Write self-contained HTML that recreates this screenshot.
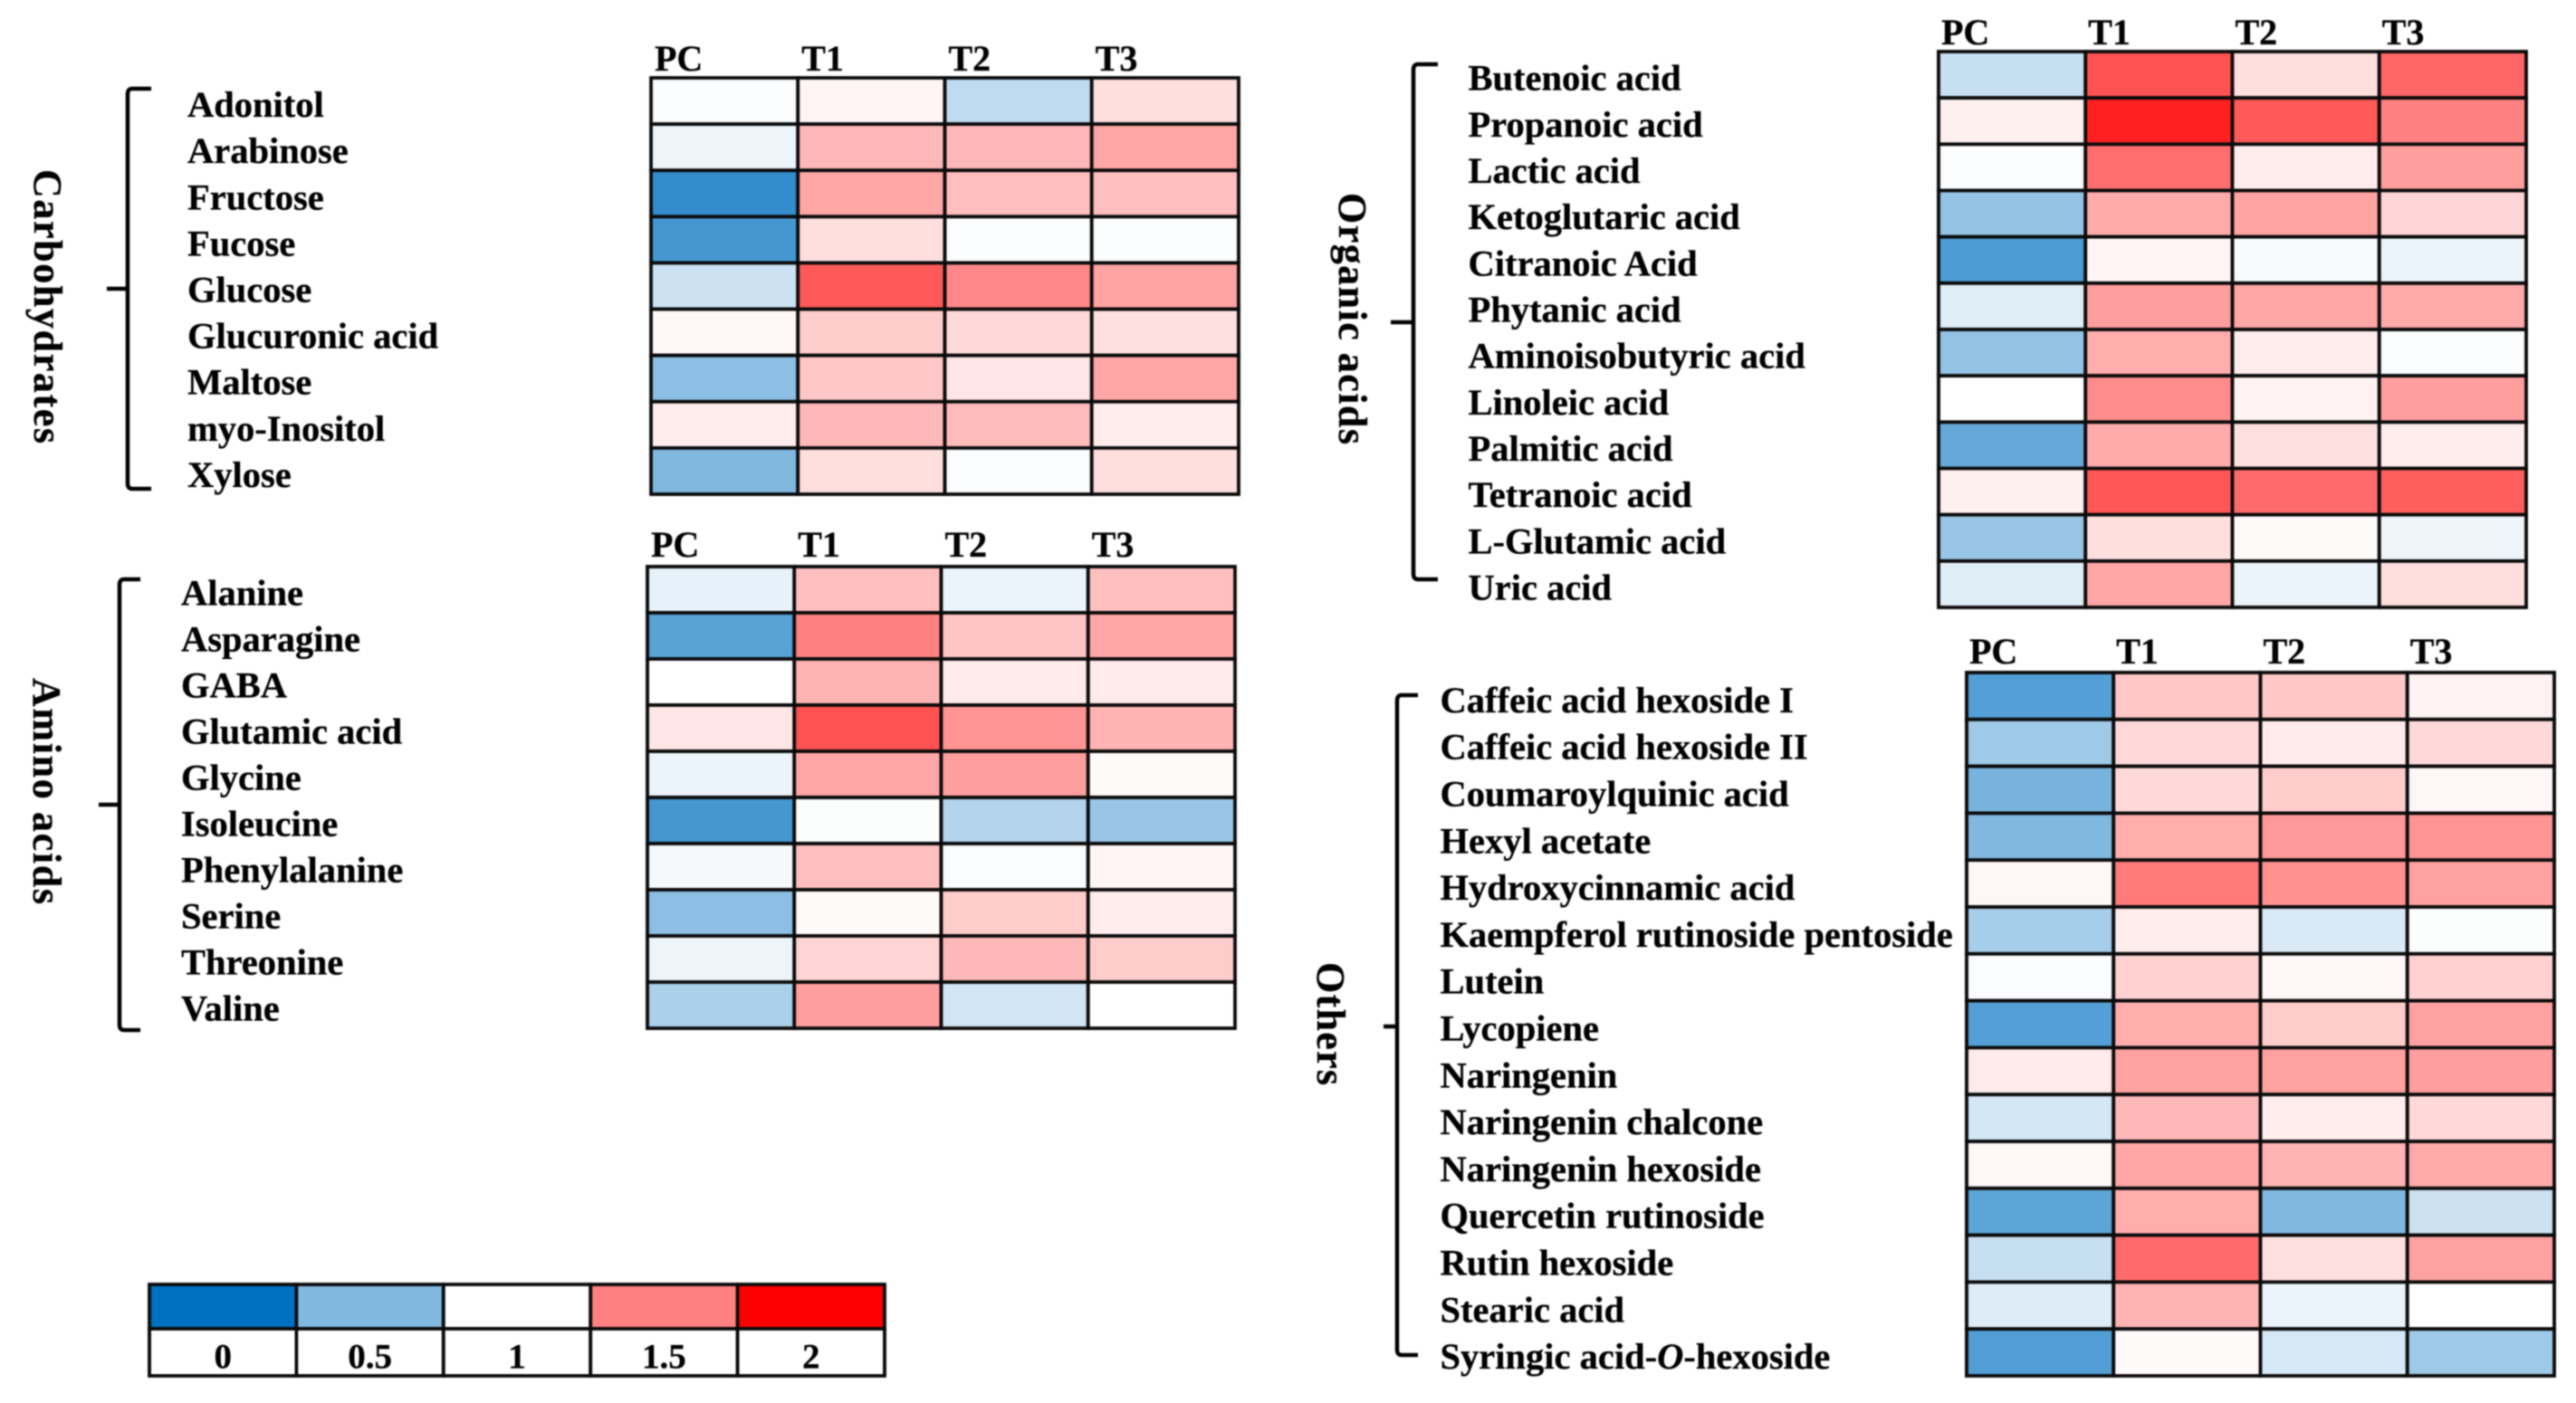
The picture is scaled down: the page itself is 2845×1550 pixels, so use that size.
<!DOCTYPE html>
<html lang="en">
<head>
<meta charset="utf-8">
<title>Metabolite heatmaps</title>
<style>
html,body{margin:0;padding:0;background:#fff;width:2845px;height:1550px;overflow:hidden}
svg{display:block;filter:blur(0.9px)}
text{font-family:"Liberation Serif",serif;font-weight:bold;fill:#000;stroke:#000;stroke-width:0.3px}
</style>
</head>
<body>
<svg id="chart" xmlns="http://www.w3.org/2000/svg" width="2845" height="1550" viewBox="0 0 2845 1550"></svg>
<script>
const columns = ["PC", "T1", "T2", "T3"];

const carbohydrateLabels = ["Adonitol","Arabinose","Fructose","Fucose","Glucose","Glucuronic acid","Maltose","myo-Inositol","Xylose"];
const carbohydrateValues = [
  [0.98,1.04,0.75,1.13],
  [0.93,1.28,1.28,1.35],
  [0.20,1.35,1.25,1.25],
  [0.27,1.13,0.98,0.98],
  [0.80,1.65,1.47,1.36],
  [1.03,1.20,1.15,1.12],
  [0.55,1.22,1.10,1.35],
  [1.07,1.28,1.27,1.07],
  [0.50,1.13,0.98,1.13]
];

const aminoLabels = ["Alanine","Asparagine","GABA","Glutamic acid","Glycine","Isoleucine","Phenylalanine","Serine","Threonine","Valine"];
const aminoValues = [
  [0.90,1.25,0.92,1.25],
  [0.35,1.50,1.23,1.35],
  [1.00,1.30,1.08,1.08],
  [1.10,1.68,1.42,1.30],
  [0.92,1.35,1.38,1.02],
  [0.27,0.99,0.70,0.60],
  [0.96,1.25,0.98,1.04],
  [0.55,1.02,1.20,1.07],
  [0.93,1.17,1.28,1.20],
  [0.67,1.38,0.82,1.00]
];

const organicLabels = ["Butenoic acid","Propanoic acid","Lactic acid","Ketoglutaric acid","Citranoic Acid","Phytanic acid","Aminoisobutyric acid","Linoleic acid","Palmitic acid","Tetranoic acid","L-Glutamic acid","Uric acid"];
const organicValues = [
  [0.78,1.68,1.13,1.60],
  [1.06,1.87,1.65,1.50],
  [0.98,1.57,1.07,1.38],
  [0.58,1.33,1.36,1.17],
  [0.30,1.04,0.97,0.92],
  [0.88,1.38,1.35,1.33],
  [0.58,1.32,1.07,0.98],
  [1.00,1.45,1.05,1.38],
  [0.40,1.33,1.12,1.07],
  [1.06,1.66,1.58,1.63],
  [0.60,1.13,1.02,0.93],
  [0.88,1.35,0.92,1.13]
];

const otherLabels = ["Caffeic acid hexoside I","Caffeic acid hexoside II","Coumaroylquinic acid","Hexyl acetate","Hydroxycinnamic acid","Kaempferol rutinoside pentoside","Lutein","Lycopiene","Naringenin","Naringenin chalcone","Naringenin hexoside","Quercetin rutinoside","Rutin hexoside","Stearic acid","Syringic acid-O-hexoside"];
const otherValues = [
  [0.33,1.22,1.22,1.05],
  [0.62,1.15,1.08,1.15],
  [0.47,1.15,1.20,1.03],
  [0.50,1.32,1.40,1.42],
  [1.03,1.52,1.43,1.37],
  [0.65,1.07,0.85,0.99],
  [0.98,1.18,1.03,1.18],
  [0.33,1.32,1.20,1.37],
  [1.08,1.37,1.37,1.38],
  [0.83,1.28,1.07,1.15],
  [1.03,1.35,1.30,1.33],
  [0.37,1.32,0.50,0.80],
  [0.78,1.58,1.12,1.37],
  [0.87,1.30,0.92,1.00],
  [0.32,1.02,0.84,0.62]
];

const legendValues = [0, 0.5, 1, 1.5, 2];
const legendLabels = ["0", "0.5", "1", "1.5", "2"];

const svg = document.getElementById("chart");
const NS = "http://www.w3.org/2000/svg";

function make(tag, attrs, text) {
  const el = document.createElementNS(NS, tag);
  for (const k in attrs) el.setAttribute(k, attrs[k]);
  if (text !== undefined) el.textContent = text;
  return el;
}

/* colour axis: 0 blue -> 1 white -> 2 red */
function colorScale(v) {
  const c = Math.max(0, Math.min(2, v));
  if (c <= 1) {
    return "rgb(" + Math.round(255 * c) + "," + Math.round(112 + 143 * c) + "," + Math.round(192 + 63 * c) + ")";
  }
  const g = Math.round(255 * (2 - c));
  return "rgb(255," + g + "," + g + ")";
}

function kebab(s) {
  return s.toLowerCase().replace(/[^a-z0-9]+/g, "-");
}

function drawPanel(p) {
  const g = make("g", {});
  
  
  svg.appendChild(g);

  const cw = (p.x1 - p.x0) / columns.length;
  const rh = (p.y1 - p.y0) / p.labels.length;
  const xScale = function (i) { return p.x0 + i * cw; };
  const yScale = function (i) { return p.y0 + i * rh; };

  columns.forEach(function (name, i) {
    const t = make("text", { x: xScale(i) + p.headDx, y: p.headY, "font-size": 40 }, name);
    
    
    g.appendChild(t);
  });

  p.values.forEach(function (row, r) {
    const lab = make("text", { x: p.labelX, y: yScale(r) + rh / 2 + p.labelDy, "font-size": 40.5 });
    const name = p.labels[r];
    const italic = name.indexOf("-O-");
    if (italic >= 0) {
      lab.appendChild(document.createTextNode(name.slice(0, italic + 1)));
      lab.appendChild(make("tspan", { "font-style": "italic" }, "O"));
      lab.appendChild(document.createTextNode(name.slice(italic + 2)));
    } else {
      lab.textContent = name;
    }
    
    
    g.appendChild(lab);

    row.forEach(function (v, c) {
      const cell = make("rect", {
        x: xScale(c), y: yScale(r), width: cw, height: rh,
        fill: colorScale(v), stroke: "#0a0a0a", "stroke-width": 3.8
      });
      
      
      g.appendChild(cell);
    });
  });

  const b = p.bracket;
  const path = make("path", {
    d: "M" + b.hook + " " + b.top + " H" + (b.x + 5) + " Q" + b.x + " " + b.top + " " + b.x + " " + (b.top + 6) +
       " V" + (b.bottom - 6) + " Q" + b.x + " " + b.bottom + " " + (b.x + 5) + " " + b.bottom + " H" + b.hook +
       " M" + b.x + " " + b.mid + " H" + b.tick,
    fill: "none", stroke: "#000", "stroke-width": 4.5
  });
  
  
  g.appendChild(path);

  const title = make("text", {
    transform: "translate(" + p.titleX + " " + p.titleY + ") rotate(90)",
    "font-size": 44, textLength: p.titleLen, lengthAdjust: "spacing"
  }, p.title);
  
  
  g.appendChild(title);
}

const panels = [
  { key: "carbohydrates", title: "Carbohydrates", labels: carbohydrateLabels, values: carbohydrateValues,
    x0: 719, x1: 1368, y0: 86, y1: 546, headY: 78, headDx: 4, labelX: 207, labelDy: 17.5,
    titleX: 38, titleY: 187, titleLen: 303,
    bracket: { x: 141, top: 98, bottom: 540, mid: 319, tick: 118, hook: 167 } },
  { key: "amino-acids", title: "Amino acids", labels: aminoLabels, values: aminoValues,
    x0: 715, x1: 1364, y0: 626, y1: 1136, headY: 615, headDx: 4, labelX: 200, labelDy: 17,
    titleX: 37, titleY: 749, titleLen: 250,
    bracket: { x: 132, top: 640, bottom: 1138, mid: 889, tick: 109, hook: 155 } },
  { key: "organic-acids", title: "Organic acids", labels: organicLabels, values: organicValues,
    x0: 2141, x1: 2790, y0: 57, y1: 671, headY: 49, headDx: 3, labelX: 1621.5, labelDy: 17,
    titleX: 1479, titleY: 213, titleLen: 278,
    bracket: { x: 1561, top: 71, bottom: 640, mid: 356, tick: 1536, hook: 1588 } },
  { key: "others", title: "Others", labels: otherLabels, values: otherValues,
    x0: 2172, x1: 2821, y0: 743, y1: 1520, headY: 733, headDx: 3, labelX: 1590.5, labelDy: 18,
    titleX: 1455, titleY: 1063, titleLen: 136,
    bracket: { x: 1543, top: 768, bottom: 1497, mid: 1134, tick: 1528, hook: 1566 } }
];

panels.forEach(drawPanel);

(function drawLegend() {
  const g = make("g", {});
  
  
  svg.appendChild(g);
  const x0 = 165, x1 = 977, y0 = 1419, ym = 1468, y1 = 1520;
  const w = (x1 - x0) / legendValues.length;
  const legendX = function (i) { return x0 + i * w; };
  legendValues.forEach(function (v, i) {
    const sw = make("rect", { x: legendX(i), y: y0, width: w, height: ym - y0, fill: colorScale(v), stroke: "#0a0a0a", "stroke-width": 3.8 });
    
    
    g.appendChild(sw);
    const box = make("rect", { x: legendX(i), y: ym, width: w, height: y1 - ym, fill: "#fff", stroke: "#0a0a0a", "stroke-width": 3.8 });
    
    
    g.appendChild(box);
    const t = make("text", { x: legendX(i) + w / 2, y: ym + 43.5, "font-size": 39, "text-anchor": "middle" }, legendLabels[i]);
    
    
    g.appendChild(t);
  });
})();
</script>
</body>
</html>
